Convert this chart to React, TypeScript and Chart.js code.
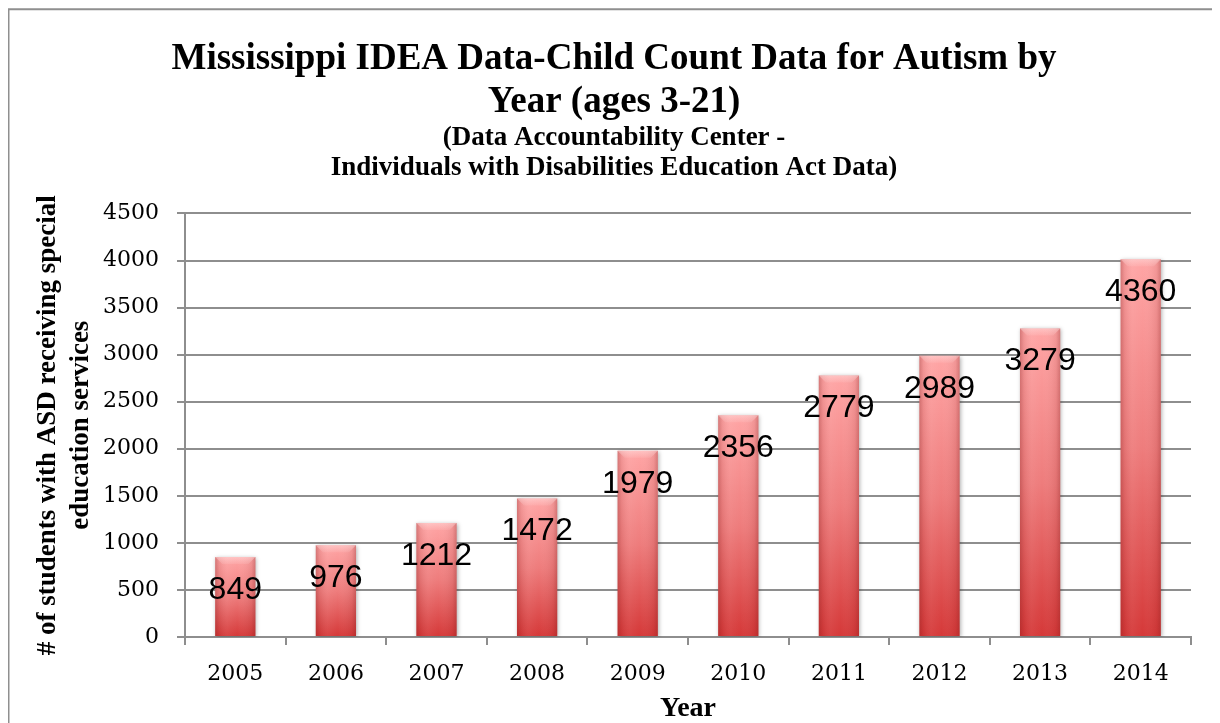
import { useEffect, useRef } from 'react';
import { Chart, registerables } from 'chart.js';

Chart.register(...registerables);

const years = ['2005', '2006', '2007', '2008', '2009', '2010', '2011', '2012', '2013', '2014'];
// bar heights as drawn in the picture
const barHeights = [849, 976, 1212, 1472, 1979, 2356, 2779, 2989, 3279, 4013];
// value labels as printed on the bars
const valueLabels = ['849', '976', '1212', '1472', '1979', '2356', '2779', '2989', '3279', '4360'];
const yMin = 0;
const yMax = 4500;
const yStep = 500;

const titleLines = ['Mississippi IDEA Data-Child Count Data for Autism by', 'Year (ages 3-21)'];
const subtitleLines = ['(Data Accountability Center -', 'Individuals with Disabilities Education Act Data)'];
const yAxisTitle = ['# of students with ASD receiving special', 'education services'];
const xAxisTitle = 'Year';

const SERIF = '"Liberation Serif", "Times New Roman", serif';
const TICK_FONT = '"DejaVu Serif", serif';
const GRID = '#8e8e8e';

const barFx = {
  id: 'barFx',
  beforeDatasetsDraw(chart: any) {
    const c = chart.ctx;
    c.save();
    c.shadowColor = 'rgba(0,0,0,0.3)';
    c.shadowBlur = 4;
    c.shadowOffsetX = 1;
    c.shadowOffsetY = 1;
  },
  afterDatasetsDraw(chart: any) {
    const c = chart.ctx;
    c.restore();
    const meta = chart.getDatasetMeta(0);
    meta.data.forEach((bar: any, i: number) => {
      const { x, y, base, width } = bar.getProps(['x', 'y', 'base', 'width'], true);
      const x0 = x - width / 2;
      const x1 = x + width / 2;
      c.save();
      const hg = c.createLinearGradient(x0, 0, x1, 0);
      hg.addColorStop(0, 'rgba(120,20,20,0.30)');
      hg.addColorStop(0.1, 'rgba(120,20,20,0.10)');
      hg.addColorStop(0.3, 'rgba(255,255,255,0.05)');
      hg.addColorStop(0.55, 'rgba(255,255,255,0)');
      hg.addColorStop(0.9, 'rgba(120,20,20,0.10)');
      hg.addColorStop(1, 'rgba(120,20,20,0.30)');
      c.fillStyle = hg;
      c.fillRect(x0, y, width, base - y);
      const bev = 7;
      c.beginPath();
      c.moveTo(x0, y);
      c.lineTo(x1, y);
      c.lineTo(x1 - bev, y + bev);
      c.lineTo(x0 + bev, y + bev);
      c.closePath();
      const bg = c.createLinearGradient(0, y, 0, y + bev);
      bg.addColorStop(0, 'rgba(255,230,230,0.45)');
      bg.addColorStop(1, 'rgba(255,220,220,0.12)');
      c.fillStyle = bg;
      c.fill();
      c.fillStyle = '#000';
      c.font = '32px "Liberation Sans", Arial, sans-serif';
      c.textAlign = 'center';
      c.textBaseline = 'middle';
      c.fillText(valueLabels[i], x, y + 33);
      c.restore();
    });
  },
};

const frame = {
  id: 'frame',
  afterDraw(chart: any) {
    const c = chart.ctx;
    c.save();
    c.strokeStyle = '#8f8f8f';
    c.lineWidth = 2;
    c.beginPath();
    c.moveTo(0.5, chart.height);
    c.lineTo(0.5, 1.3);
    c.lineTo(chart.width, 1.3);
    c.stroke();
    c.restore();
  },
};

export default function App() {
  const ref = useRef<HTMLCanvasElement | null>(null);

  useEffect(() => {
    if (!ref.current) return;
    const chart = new Chart(ref.current, {
      type: 'bar',
      data: {
        labels: years,
        datasets: [
          {
            data: barHeights,
            barPercentage: 0.4,
            categoryPercentage: 1.0,
            borderWidth: 0,
            backgroundColor: (ctx: any) => {
              const ch = ctx.chart;
              if (!ch.chartArea || ctx.type !== 'data' || !ch.scales.y) return '#E06060';
              const ys = ch.scales.y;
              const top = ys.getPixelForValue(ctx.raw as number);
              const bottom = ys.getPixelForValue(0);
              if (!isFinite(top) || !isFinite(bottom) || bottom - top < 1) return '#E06060';
              const g = ch.ctx.createLinearGradient(0, top, 0, bottom);
              g.addColorStop(0, '#FFA5A5');
              g.addColorStop(0.5, '#EE7C7C');
              g.addColorStop(1, '#D53838');
              return g;
            },
          },
        ],
      },
      options: {
        animation: false,
        responsive: true,
        maintainAspectRatio: false,
        layout: { padding: 0 },
        plugins: {
          legend: { display: false },
          tooltip: { enabled: false },
          title: {
            display: true,
            text: titleLines,
            color: '#000',
            font: { family: SERIF, size: 37, weight: 'bold', lineHeight: 1.162 },
            padding: { top: 30, bottom: -1 },
          },
          subtitle: {
            display: true,
            text: subtitleLines,
            color: '#000',
            font: { family: SERIF, size: 27, weight: 'bold', lineHeight: 1.12 },
            padding: { top: 0, bottom: 30 },
          },
        },
        scales: {
          x: {
            grid: {
              offset: true,
              drawOnChartArea: false,
              drawTicks: true,
              tickLength: 8,
              color: GRID,
              lineWidth: 2,
            },
            border: { color: GRID, width: 2 },
            ticks: {
              color: '#000',
              font: { family: TICK_FONT, size: 22 },
              padding: 16,
            },
            title: {
              display: true,
              text: xAxisTitle,
              color: '#000',
              font: { family: SERIF, size: 28, weight: 'bold', lineHeight: 1.2 },
              padding: { top: 0, bottom: -3 },
            },
            afterFit: (s: any) => {
              s.height = 86;
            },
          },
          y: {
            min: yMin,
            max: yMax,
            grid: { color: GRID, lineWidth: 2, tickLength: 8 },
            border: { color: GRID, width: 2 },
            ticks: {
              stepSize: yStep,
              color: '#000',
              font: { family: TICK_FONT, size: 22 },
              padding: 18,
              callback: (v: any) => String(v),
            },
            title: {
              display: true,
              text: yAxisTitle,
              color: '#000',
              font: { family: SERIF, size: 27, weight: 'bold', lineHeight: 1.2 },
              padding: { top: 24, bottom: 0 },
            },
            afterFit: (s: any) => {
              s.width = 177;
            },
          },
          yRight: {
            type: 'linear',
            position: 'right',
            display: true,
            grid: { display: false },
            border: { display: false },
            ticks: { display: false },
            afterFit: (s: any) => {
              s.width = 29;
            },
          },
        },
      } as any,
      plugins: [barFx, frame],
    });
    return () => chart.destroy();
  }, []);

  return (
    <div style={{ width: 1212, height: 715, position: 'relative' }}>
      <canvas ref={ref} />
    </div>
  );
}
